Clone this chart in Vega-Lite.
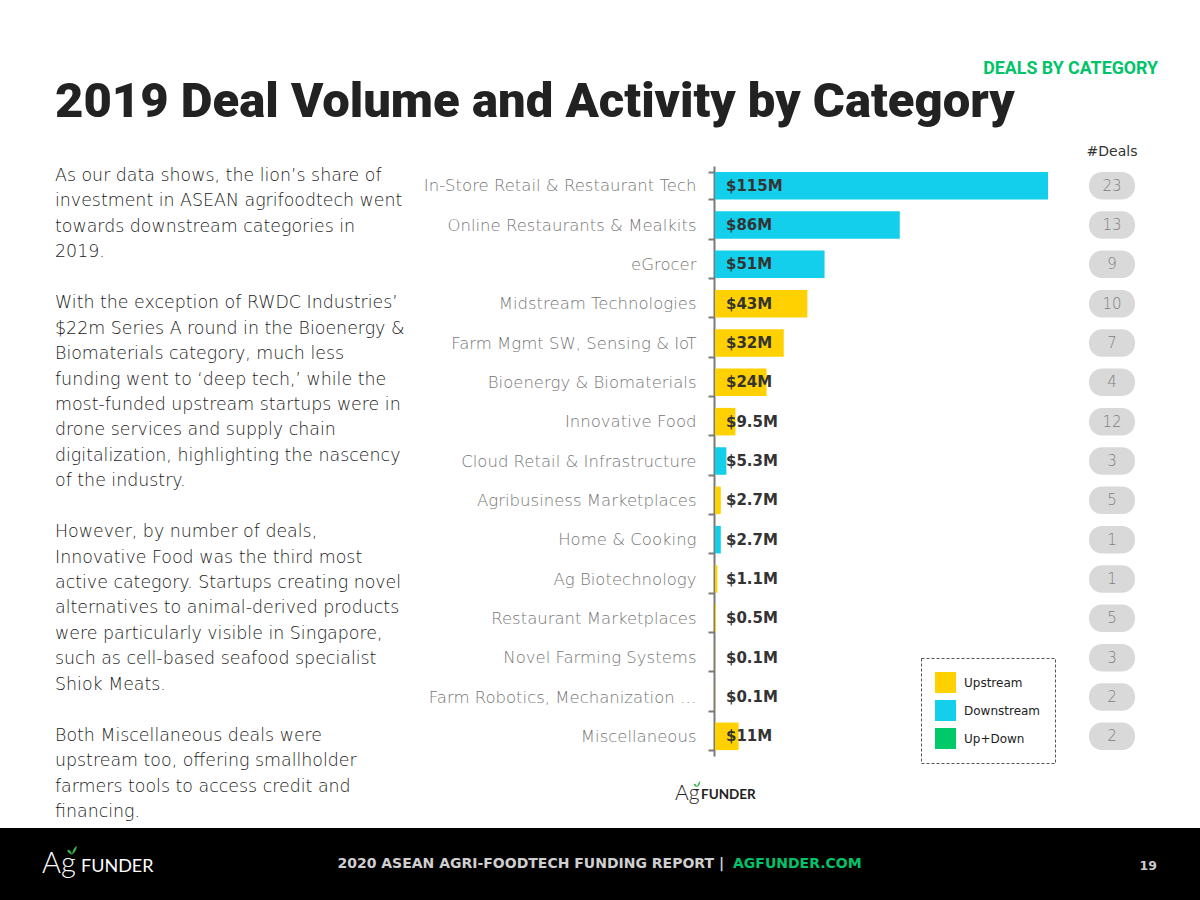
{
  "$schema": "https://vega.github.io/schema/vega-lite/v6.json",
  "width": 1200,
  "height": 900,
  "padding": 0,
  "autosize": {"type": "none"},
  "background": "#ffffff",
  "config": {
    "view": {"stroke": null},
    "font": "DejaVu Sans",
    "legend": {"strokeDash": [3, 2], "strokeWidth": 1}
  },
  "resolve": {"scale": {"x": "independent", "y": "independent"}},
  "layer": [
    {
      "data": {"values": [{"part": "footer band"}]},
      "mark": {"type": "rect", "fill": "#000000"},
      "encoding": {"x": {"value": 0}, "x2": {"value": 1200}, "y": {"value": 828}, "y2": {"value": 900}}
    },
    {
      "data": {"values": [{"text": "2019 Deal Volume and Activity by Category"}]},
      "mark": {"type": "text", "font": "Roboto", "fontWeight": 900, "fontSize": 49, "color": "#222222", "align": "left", "baseline": "alphabetic"},
      "encoding": {"text": {"field": "text"}, "x": {"value": 55}, "y": {"value": 117}}
    },
    {
      "data": {"values": [{"text": "DEALS BY CATEGORY"}]},
      "mark": {"type": "text", "font": "Roboto", "fontWeight": 700, "fontSize": 17.8, "color": "#00C36A", "align": "right", "baseline": "alphabetic"},
      "encoding": {"text": {"field": "text"}, "x": {"value": 1158}, "y": {"value": 74}}
    },
    {
      "data": {"values": [
        {"line": 1, "text": "As our data shows, the lion’s share of"},
        {"line": 2, "text": "investment in ASEAN agrifoodtech went"},
        {"line": 3, "text": "towards downstream categories in"},
        {"line": 4, "text": "2019."},
        {"line": 6, "text": "With the exception of RWDC Industries’"},
        {"line": 7, "text": "$22m Series A round in the Bioenergy &"},
        {"line": 8, "text": "Biomaterials category, much less"},
        {"line": 9, "text": "funding went to ‘deep tech,’ while the"},
        {"line": 10, "text": "most-funded upstream startups were in"},
        {"line": 11, "text": "drone services and supply chain"},
        {"line": 12, "text": "digitalization, highlighting the nascency"},
        {"line": 13, "text": "of the industry."},
        {"line": 15, "text": "However, by number of deals,"},
        {"line": 16, "text": "Innovative Food was the third most"},
        {"line": 17, "text": "active category. Startups creating novel"},
        {"line": 18, "text": "alternatives to animal-derived products"},
        {"line": 19, "text": "were particularly visible in Singapore,"},
        {"line": 20, "text": "such as cell-based seafood specialist"},
        {"line": 21, "text": "Shiok Meats."},
        {"line": 23, "text": "Both Miscellaneous deals were"},
        {"line": 24, "text": "upstream too, offering smallholder"},
        {"line": 25, "text": "farmers tools to access credit and"},
        {"line": 26, "text": "financing."}
      ]},
      "mark": {"type": "text", "align": "left", "baseline": "middle", "font": "DejaVu Sans", "fontSize": 17.4, "fontWeight": 300, "color": "#1a1a1a"},
      "encoding": {
        "x": {"value": 55},
        "y": {"field": "line", "type": "quantitative", "scale": {"domain": [1, 26], "range": [176, 812], "nice": false}, "axis": null},
        "text": {"field": "text"}
      }
    },
    {
      "data": {"values": [
        {"category": "In-Store Retail & Restaurant Tech", "value": 155, "label": "$115M", "stage": "Downstream", "deals": 23},
        {"category": "Online Restaurants & Mealkits", "value": 86, "label": "$86M", "stage": "Downstream", "deals": 13},
        {"category": "eGrocer", "value": 51, "label": "$51M", "stage": "Downstream", "deals": 9},
        {"category": "Midstream Technologies", "value": 43, "label": "$43M", "stage": "Upstream", "deals": 10},
        {"category": "Farm Mgmt SW, Sensing & IoT", "value": 32, "label": "$32M", "stage": "Upstream", "deals": 7},
        {"category": "Bioenergy & Biomaterials", "value": 24, "label": "$24M", "stage": "Upstream", "deals": 4},
        {"category": "Innovative Food", "value": 9.5, "label": "$9.5M", "stage": "Upstream", "deals": 12},
        {"category": "Cloud Retail & Infrastructure", "value": 5.3, "label": "$5.3M", "stage": "Downstream", "deals": 3},
        {"category": "Agribusiness Marketplaces", "value": 2.7, "label": "$2.7M", "stage": "Upstream", "deals": 5},
        {"category": "Home & Cooking", "value": 2.7, "label": "$2.7M", "stage": "Downstream", "deals": 1},
        {"category": "Ag Biotechnology", "value": 1.1, "label": "$1.1M", "stage": "Upstream", "deals": 1},
        {"category": "Restaurant Marketplaces", "value": 0.5, "label": "$0.5M", "stage": "Upstream", "deals": 5},
        {"category": "Novel Farming Systems", "value": 0.1, "label": "$0.1M", "stage": "Upstream", "deals": 3},
        {"category": "Farm Robotics, Mechanization & Equipment", "value": 0.1, "label": "$0.1M", "stage": "Upstream", "deals": 2},
        {"category": "Miscellaneous", "value": 11, "label": "$11M", "stage": "Upstream", "deals": 2}
      ]},
      "encoding": {
        "y": {
          "field": "category", "type": "nominal", "sort": null,
          "scale": {"type": "band", "range": [166, 756], "paddingInner": 0.3, "paddingOuter": 0.15},
          "axis": {
            "orient": "left", "offset": -714, "title": null,
            "domainColor": "#7a7a7a", "domainWidth": 2,
            "tickColor": "#7a7a7a", "tickWidth": 2, "tickSize": 6, "tickBand": "extent",
            "labelFont": "DejaVu Sans", "labelFontSize": 16.5, "labelFontWeight": 300,
            "labelColor": "#767676", "labelPadding": 12, "labelLimit": 277
          }
        }
      },
      "resolve": {"scale": {"x": "independent"}},
      "layer": [
        {
          "layer": [
            {
              "mark": {"type": "bar"},
              "encoding": {
                "x": {"field": "value", "type": "quantitative", "scale": {"domain": [0, 155], "range": [715, 1048], "nice": false, "zero": true}, "axis": null},
                "color": {
                  "field": "stage", "type": "nominal",
                  "scale": {"domain": ["Upstream", "Downstream", "Up+Down"], "range": ["#FFD100", "#14CFEB", "#00C96A"]},
                  "legend": {
                    "orient": "none", "legendX": 921, "legendY": 658, "title": null,
                    "symbolType": "square", "symbolSize": 441, "symbolStrokeWidth": 0, "symbolOpacity": 1,
                    "labelFont": "DejaVu Sans", "labelFontSize": 12, "labelColor": "#222222",
                    "labelOffset": 8, "rowPadding": 7, "padding": 14, "strokeColor": "#555555"
                  }
                }
              }
            },
            {
              "mark": {"type": "text", "align": "left", "baseline": "middle", "dx": 11, "font": "DejaVu Sans", "fontWeight": "bold", "fontSize": 15, "color": "#333333"},
              "encoding": {
                "x": {"datum": 0, "type": "quantitative"},
                "text": {"field": "label"}
              }
            }
          ]
        },
        {
          "layer": [
            {
              "mark": {"type": "rect", "fill": "#D9D9D9", "cornerRadius": 13},
              "encoding": {
                "x": {
                  "datum": "#Deals", "type": "nominal",
                  "scale": {"type": "band", "range": [1089, 1135], "paddingInner": 0, "paddingOuter": 0},
                  "axis": {"orient": "top", "offset": -158, "domain": false, "ticks": false, "labelPadding": 0, "labelAngle": 0, "labelFont": "DejaVu Sans", "labelFontSize": 14, "labelColor": "#333333", "title": null}
                }
              }
            },
            {
              "mark": {"type": "text", "baseline": "middle", "font": "DejaVu Sans", "fontSize": 15, "fontWeight": 300, "color": "#808080"},
              "encoding": {
                "x": {"datum": "#Deals", "type": "nominal"},
                "text": {"field": "deals"}
              }
            }
          ]
        }
      ]
    },
    {
      "data": {"values": [{"text": "Ag"}]},
      "mark": {"type": "text", "font": "Lato", "fontWeight": 300, "fontSize": 21, "color": "#222222", "align": "left", "baseline": "alphabetic"},
      "encoding": {"text": {"field": "text"}, "x": {"value": 675}, "y": {"value": 800}}
    },
    {
      "data": {"values": [{"text": "FUNDER"}]},
      "mark": {"type": "text", "font": "Lato", "fontWeight": 700, "fontSize": 13.5, "color": "#222222", "align": "left", "baseline": "alphabetic"},
      "encoding": {"text": {"field": "text"}, "x": {"value": 701}, "y": {"value": 799}}
    },
    {
      "data": {"values": [{"text": "Ag"}]},
      "mark": {"type": "text", "font": "Lato", "fontWeight": 300, "fontSize": 29, "color": "#ffffff", "align": "left", "baseline": "alphabetic"},
      "encoding": {"text": {"field": "text"}, "x": {"value": 42}, "y": {"value": 873}}
    },
    {
      "data": {"values": [{"text": "FUNDER"}]},
      "mark": {"type": "text", "font": "Lato", "fontWeight": 400, "fontSize": 18, "color": "#ffffff", "align": "left", "baseline": "alphabetic"},
      "encoding": {"text": {"field": "text"}, "x": {"value": 81}, "y": {"value": 872}}
    },
    {
      "data": {"values": [{"logo": "footer leaf"}]},
      "mark": {"type": "point", "filled": true, "color": "#3CB44A", "opacity": 1, "size": 90, "shape": "M0,1 C-0.1,0.3 -0.5,-0.2 -1,0 C-0.9,0.6 -0.4,0.8 0,1 Z M0,1 C0.1,0.1 0.5,-0.6 1,-0.9 C1,-0.1 0.6,0.6 0,1 Z"},
      "encoding": {"x": {"value": 72}, "y": {"value": 850}}
    },
    {
      "data": {"values": [{"logo": "chart leaf"}]},
      "mark": {"type": "point", "filled": true, "color": "#3CB44A", "opacity": 1, "size": 45, "shape": "M0,1 C-0.1,0.3 -0.5,-0.2 -1,0 C-0.9,0.6 -0.4,0.8 0,1 Z M0,1 C0.1,0.1 0.5,-0.6 1,-0.9 C1,-0.1 0.6,0.6 0,1 Z"},
      "encoding": {"x": {"value": 697}, "y": {"value": 784}}
    },
    {
      "data": {"values": [{"text": "2020 ASEAN AGRI-FOODTECH FUNDING REPORT  |"}]},
      "mark": {"type": "text", "font": "DejaVu Sans", "fontWeight": "bold", "fontSize": 14, "color": "#cfcfcf", "align": "right", "baseline": "middle"},
      "encoding": {"text": {"field": "text"}, "x": {"value": 724}, "y": {"value": 864}}
    },
    {
      "data": {"values": [{"text": "AGFUNDER.COM"}]},
      "mark": {"type": "text", "font": "DejaVu Sans", "fontWeight": "bold", "fontSize": 14, "color": "#00C36A", "align": "left", "baseline": "middle"},
      "encoding": {"text": {"field": "text"}, "x": {"value": 733}, "y": {"value": 864}}
    },
    {
      "data": {"values": [{"text": "19"}]},
      "mark": {"type": "text", "font": "DejaVu Sans", "fontWeight": "bold", "fontSize": 12.5, "color": "#cccccc", "align": "right", "baseline": "middle"},
      "encoding": {"text": {"field": "text"}, "x": {"value": 1157}, "y": {"value": 866}}
    }
  ]
}
